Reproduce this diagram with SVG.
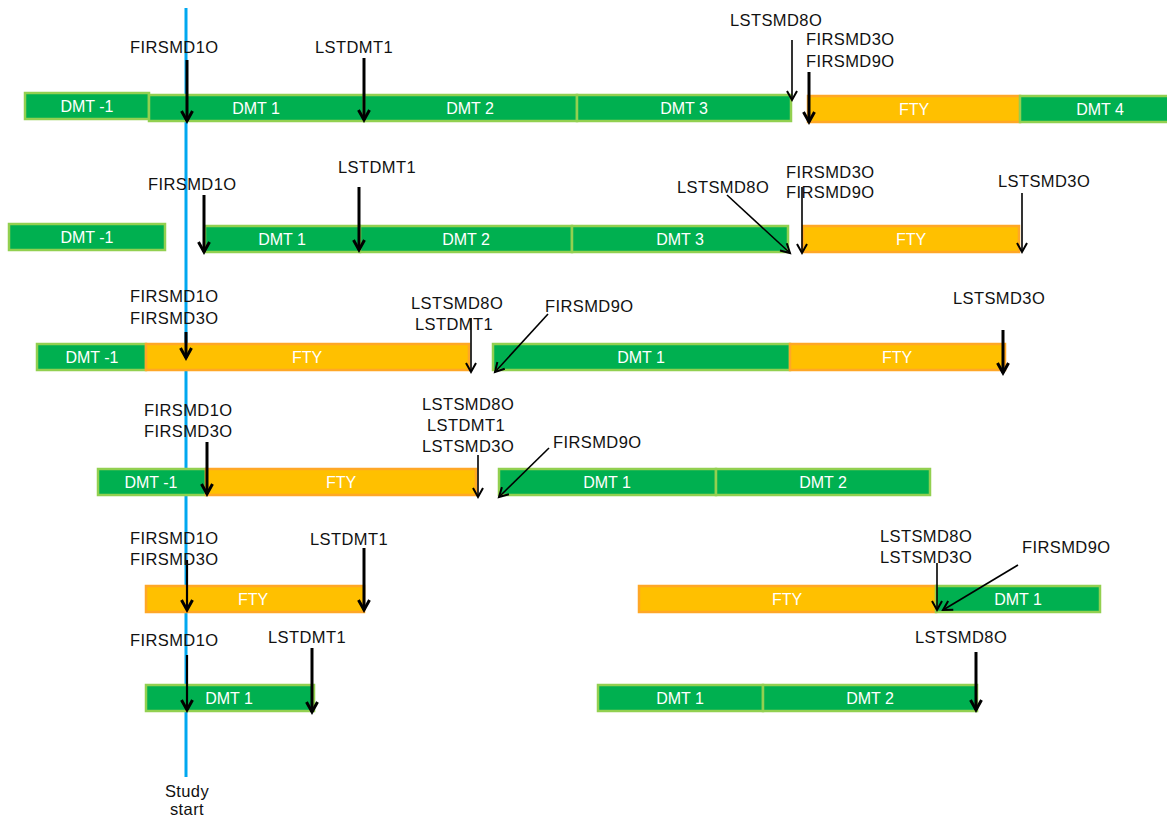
<svg xmlns="http://www.w3.org/2000/svg" width="1167" height="821" viewBox="0 0 1167 821">
<style>
.g{fill:#00b050;stroke:#92d050;stroke-width:2.5}
.f{fill:#ffc000;stroke:#ffa726;stroke-width:2.5}
.bt{font-family:"Liberation Sans",Arial,sans-serif;font-size:16px;fill:#fff;text-anchor:middle}
.lb{font-family:"Liberation Sans",Arial,sans-serif;font-size:16.5px;letter-spacing:0.4px;fill:#111}
.c{text-anchor:middle}
.tk{stroke:#000;stroke-width:3;fill:none;marker-end:url(#hk)}
.tm{stroke:#000;stroke-width:2.2;fill:none;marker-end:url(#hk)}
.tn{stroke:#000;stroke-width:1.6;fill:none;marker-end:url(#hn)}
</style>
<defs>
<marker id="hk" markerUnits="userSpaceOnUse" orient="auto" refX="0" refY="0" overflow="visible"><path d="M-10,-5.5 L0,0 L-10,5.5" fill="none" stroke="#000" stroke-width="3"/></marker>
<marker id="hn" markerUnits="userSpaceOnUse" orient="auto" refX="0" refY="0" overflow="visible"><path d="M-9,-5 L0,0 L-9,5" fill="none" stroke="#000" stroke-width="2"/></marker>
</defs>
<rect width="1167" height="821" fill="#fff"/>
<g id="study-start">
<line x1="186" y1="8" x2="186" y2="777" stroke="#00a8f0" stroke-width="3"/>
<text class="lb c" x="187" y="797" font-size="16" letter-spacing="0">Study</text>
<text class="lb c" x="187" y="815" font-size="16" letter-spacing="0">start</text>
</g>
<!-- Row 1 -->
<g id="r1-dmtm1"><rect class="g" x="25" y="93" width="124" height="26"/><text class="bt" x="87" y="112">DMT -1</text></g>
<g id="r1-dmt1"><rect class="g" x="149" y="95" width="215" height="26"/><text class="bt" x="256" y="114">DMT 1</text></g>
<g id="r1-dmt2"><rect class="g" x="364" y="95" width="213" height="26"/><text class="bt" x="470" y="114">DMT 2</text></g>
<g id="r1-dmt3"><rect class="g" x="577" y="95" width="214" height="26"/><text class="bt" x="684" y="114">DMT 3</text></g>
<g id="r1-fty"><rect class="f" x="808" y="96" width="212" height="26"/><text class="bt" x="914" y="115">FTY</text></g>
<g id="r1-dmt4"><rect class="g" x="1020" y="96" width="150" height="26"/><text class="bt" x="1100" y="115">DMT 4</text></g>
<!-- Row 2 -->
<g id="r2-dmtm1"><rect class="g" x="9" y="224" width="156" height="26"/><text class="bt" x="87" y="243">DMT -1</text></g>
<g id="r2-dmt1"><rect class="g" x="205" y="226" width="155" height="26"/><text class="bt" x="282" y="245">DMT 1</text></g>
<g id="r2-dmt2"><rect class="g" x="360" y="226" width="212" height="26"/><text class="bt" x="466" y="245">DMT 2</text></g>
<g id="r2-dmt3"><rect class="g" x="572" y="226" width="216" height="26"/><text class="bt" x="680" y="245">DMT 3</text></g>
<g id="r2-fty"><rect class="f" x="803" y="226" width="216" height="26"/><text class="bt" x="911" y="245">FTY</text></g>
<!-- Row 3 -->
<g id="r3-dmtm1"><rect class="g" x="37" y="344" width="109" height="26"/><text class="bt" x="92" y="363">DMT -1</text></g>
<g id="r3-fty1"><rect class="f" x="146" y="344" width="323" height="26"/><text class="bt" x="307" y="363">FTY</text></g>
<g id="r3-dmt1"><rect class="g" x="493" y="344" width="297" height="26"/><text class="bt" x="641" y="363">DMT 1</text></g>
<g id="r3-fty2"><rect class="f" x="790" y="344" width="215" height="26"/><text class="bt" x="897" y="363">FTY</text></g>
<!-- Row 4 -->
<g id="r4-dmtm1"><rect class="g" x="98" y="469" width="108" height="26"/><text class="bt" x="151" y="488">DMT -1</text></g>
<g id="r4-fty"><rect class="f" x="206" y="469" width="270" height="26"/><text class="bt" x="341" y="488">FTY</text></g>
<g id="r4-dmt1"><rect class="g" x="499" y="469" width="217" height="26"/><text class="bt" x="607" y="488">DMT 1</text></g>
<g id="r4-dmt2"><rect class="g" x="716" y="469" width="214" height="26"/><text class="bt" x="823" y="488">DMT 2</text></g>
<!-- Row 5 -->
<g id="r5-fty1"><rect class="f" x="146" y="586" width="218" height="26"/><text class="bt" x="253" y="605">FTY</text></g>
<g id="r5-fty2"><rect class="f" x="639" y="586" width="297" height="26"/><text class="bt" x="787" y="605">FTY</text></g>
<g id="r5-dmt1"><rect class="g" x="936" y="586" width="164" height="26"/><text class="bt" x="1018" y="605">DMT 1</text></g>
<!-- Row 6 -->
<g id="r6-dmt1a"><rect class="g" x="146" y="685" width="168" height="26"/><text class="bt" x="229" y="704">DMT 1</text></g>
<g id="r6-dmt1b"><rect class="g" x="598" y="685" width="165" height="26"/><text class="bt" x="680" y="704">DMT 1</text></g>
<g id="r6-dmt2"><rect class="g" x="763" y="685" width="214" height="26"/><text class="bt" x="870" y="704">DMT 2</text></g>
<g id="connectors">
<!-- row 1 -->
<line class="tk" x1="187" y1="60" x2="187" y2="121"/>
<line class="tk" x1="364" y1="58" x2="364" y2="120"/>
<line class="tn" x1="792" y1="40" x2="792" y2="100"/>
<line class="tk" x1="809" y1="72" x2="809" y2="122"/>
<!-- row 2 -->
<line class="tk" x1="204" y1="195" x2="204" y2="252"/>
<line class="tk" x1="359" y1="187" x2="359" y2="250"/>
<line class="tn" x1="727" y1="195" x2="790" y2="253"/>
<line class="tn" x1="802" y1="187" x2="802" y2="253"/>
<line class="tn" x1="1022" y1="193" x2="1022" y2="252"/>
<!-- row 3 -->
<line class="tk" x1="186" y1="332" x2="186" y2="358"/>
<line class="tn" x1="471" y1="318" x2="471" y2="372"/>
<line class="tn" x1="548" y1="314" x2="495" y2="372"/>
<line class="tk" x1="1003" y1="330" x2="1003" y2="373"/>
<!-- row 4 -->
<line class="tk" x1="207" y1="442" x2="207" y2="494"/>
<line class="tn" x1="478" y1="455" x2="478" y2="497"/>
<line class="tn" x1="549" y1="448" x2="499" y2="497"/>
<!-- row 5 -->
<line class="tm" x1="187" y1="560" x2="187" y2="610"/>
<line class="tk" x1="364" y1="548" x2="364" y2="610"/>
<line class="tn" x1="937" y1="563" x2="937" y2="610"/>
<line class="tn" x1="1018" y1="565" x2="943" y2="610"/>
<!-- row 6 -->
<line class="tm" x1="187" y1="655" x2="187" y2="710"/>
<line class="tk" x1="312" y1="648" x2="312" y2="712"/>
<line class="tk" x1="976" y1="652" x2="976" y2="710"/>
</g>
<g id="labels">
<text class="lb" x="130" y="53">FIRSMD1O</text>
<text class="lb" x="315" y="53">LSTDMT1</text>
<text class="lb" x="730" y="26">LSTSMD8O</text>
<text class="lb" x="806" y="45">FIRSMD3O</text>
<text class="lb" x="806" y="67">FIRSMD9O</text>

<text class="lb" x="148" y="190">FIRSMD1O</text>
<text class="lb" x="338" y="173">LSTDMT1</text>
<text class="lb" x="677" y="193">LSTSMD8O</text>
<text class="lb" x="786" y="178">FIRSMD3O</text>
<text class="lb" x="786" y="198">FIRSMD9O</text>
<text class="lb" x="998" y="187">LSTSMD3O</text>

<text class="lb" x="130" y="302">FIRSMD1O</text>
<text class="lb" x="130" y="324">FIRSMD3O</text>
<text class="lb" x="411" y="309">LSTSMD8O</text>
<text class="lb" x="415" y="330">LSTDMT1</text>
<text class="lb" x="545" y="312">FIRSMD9O</text>
<text class="lb" x="953" y="304">LSTSMD3O</text>

<text class="lb" x="144" y="416">FIRSMD1O</text>
<text class="lb" x="144" y="437">FIRSMD3O</text>
<text class="lb" x="422" y="410">LSTSMD8O</text>
<text class="lb" x="427" y="431">LSTDMT1</text>
<text class="lb" x="422" y="452">LSTSMD3O</text>
<text class="lb" x="553" y="448">FIRSMD9O</text>

<text class="lb" x="130" y="544">FIRSMD1O</text>
<text class="lb" x="130" y="565">FIRSMD3O</text>
<text class="lb" x="310" y="545">LSTDMT1</text>
<text class="lb" x="880" y="542">LSTSMD8O</text>
<text class="lb" x="880" y="563">LSTSMD3O</text>
<text class="lb" x="1022" y="553">FIRSMD9O</text>

<text class="lb" x="130" y="646">FIRSMD1O</text>
<text class="lb" x="268" y="643">LSTDMT1</text>
<text class="lb" x="915" y="643">LSTSMD8O</text>
</g>
</svg>
